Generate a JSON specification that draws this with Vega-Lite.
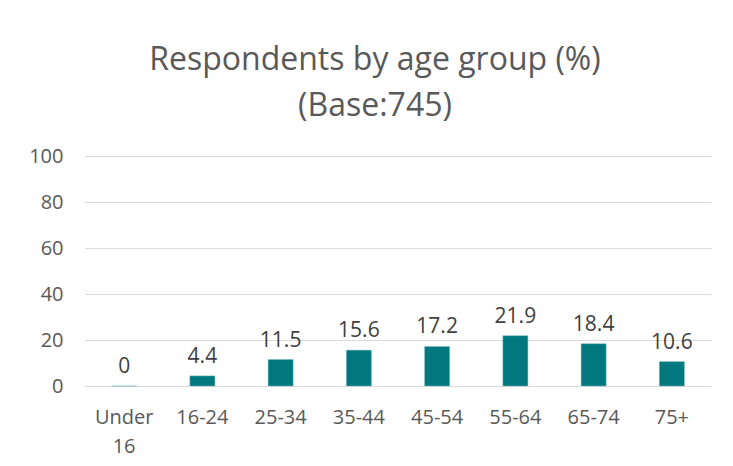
{
  "$schema": "https://vega.github.io/schema/vega-lite/v6.json",
  "width": 626,
  "height": 230,
  "autosize": {"type": "none"},
  "padding": {"left": 85, "top": 156, "right": 22, "bottom": 80},
  "background": "white",
  "title": {
    "text": ["Respondents by age group (%)", "(Base:745)"],
    "fontSize": 32,
    "font": "Open Sans",
    "fontWeight": "normal",
    "color": "#595959",
    "anchor": "middle",
    "dx": -23,
    "offset": 23,
    "lineHeight": 46
  },
  "data": {
    "values": [
      {"age": "Under 16", "pct": 0},
      {"age": "16-24", "pct": 4.4},
      {"age": "25-34", "pct": 11.5},
      {"age": "35-44", "pct": 15.6},
      {"age": "45-54", "pct": 17.2},
      {"age": "55-64", "pct": 21.9},
      {"age": "65-74", "pct": 18.4},
      {"age": "75+", "pct": 10.6}
    ]
  },
  "encoding": {
    "x": {
      "field": "age",
      "type": "nominal",
      "sort": null,
      "scale": {"paddingInner": 0.68, "paddingOuter": 0.34},
      "axis": {
        "title": null,
        "labelAngle": 0,
        "labelExpr": "datum.value == 'Under 16' ? ['Under', '16'] : datum.value",
        "labelFont": "Open Sans",
        "labelFontSize": 20,
        "labelColor": "#595959",
        "labelPadding": 21,
        "labelLineHeight": 29,
        "ticks": false,
        "domain": false,
        "grid": false
      }
    },
    "y": {
      "field": "pct",
      "type": "quantitative",
      "scale": {"domain": [0, 100]},
      "axis": {
        "title": null,
        "values": [0, 20, 40, 60, 80, 100],
        "labelFont": "Open Sans",
        "labelFontSize": 20,
        "labelColor": "#595959",
        "labelPadding": 22,
        "ticks": false,
        "domain": false,
        "gridColor": "#d9d9d9",
        "gridWidth": 1
      }
    }
  },
  "layer": [
    {"mark": {"type": "bar", "color": "#00787E", "stroke": "#7fbcbf", "strokeWidth": 0.5}},
    {
      "mark": {
        "type": "text",
        "baseline": "bottom",
        "dy": -9,
        "font": "Open Sans",
        "fontSize": 21,
        "color": "#404040"
      },
      "encoding": {"text": {"field": "pct", "type": "quantitative", "format": ".1~f"}}
    }
  ],
  "config": {"view": {"stroke": null}}
}
